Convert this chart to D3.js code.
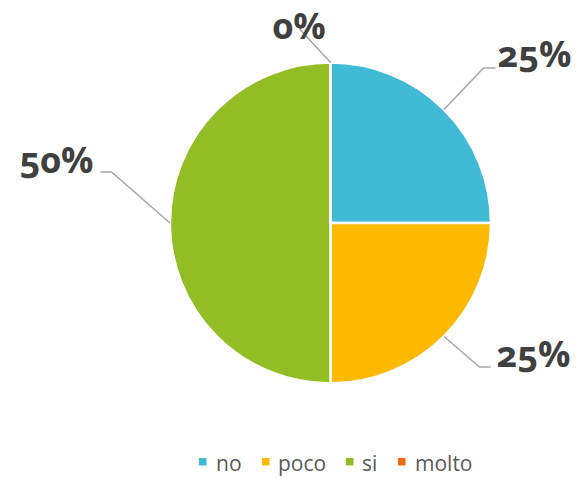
<!DOCTYPE html>
<html><head><meta charset="utf-8">
<script src="https://cdn.jsdelivr.net/npm/d3@7"></script>
<style>
body{margin:0;background:#fff;}
svg{display:block;}
.lbl{font-family:"Open Sans",sans-serif;font-weight:700;font-size:36px;fill:#404040;font-variant-numeric:oldstyle-nums;font-feature-settings:"onum" 1;}
.leg{font-family:"Open Sans",sans-serif;font-size:21px;fill:#595959;}
</style></head><body>
<svg id="c" width="582" height="478"></svg>
<script>
const categories = ["no", "poco", "si", "molto"];
const values = [25, 25, 50, 0];
const percentLabels = ["25%", "25%", "50%", "0%"];
const colors = ["#40BAD5", "#FBB900", "#93BD24", "#EC6A0A"];

const svg = d3.select("#c");
const cx = 330.5, cy = 223, R = 160.5;
const g = svg.append("g").attr("transform", `translate(${cx},${cy})`);
const pie = d3.pie().sort(null).value(d => d.v).startAngle(0).endAngle(2*Math.PI);
const data = pie(categories.map((c,i)=>({c, v: values[i], l: percentLabels[i], col: colors[i]})));
const arc = d3.arc().innerRadius(0).outerRadius(R);
g.selectAll("path.s").data(data).join("path").attr("class","s")
  .attr("d", arc).attr("fill", d=>d.data.col)
  .attr("stroke","#fff").attr("stroke-width",2.5).attr("stroke-linejoin","round");

// label layout (elbow offset, end offset, text anchor position) relative to pie center
const layout = [
  {elbow:[153,-155], end:[165,-155], text:[167,-156], anchor:"start"},
  {elbow:[149,144], end:[160,144], text:[166,144], anchor:"start"},
  {elbow:[-219,-51], end:[-230,-51], text:[-237,-50], anchor:"end"},
  {elbow:null, end:[-31,-194], text:[-58,-184], anchor:"start"}
];
data.forEach((d,i)=>{
  const a = (d.startAngle+d.endAngle)/2;
  const p0 = [R*Math.sin(a), -R*Math.cos(a)];
  const L = layout[i];
  const pts = [p0];
  if (L.elbow) pts.push(L.elbow);
  pts.push(L.end);
  g.append("path").attr("d", d3.line()(pts)).attr("fill","none")
    .attr("stroke","#A6A6A6").attr("stroke-width",1.5);
});
data.forEach((d,i)=>{
  const L = layout[i];
  g.append("text").attr("class","lbl").attr("x",L.text[0]).attr("y",L.text[1])
    .attr("text-anchor",L.anchor).text(d.data.l);
});

// legend
const legX = [199, 262, 346, 398];
const legT = [216, 278, 362, 415];
const lg = svg.append("g");
categories.forEach((c,i)=>{
  lg.append("rect").attr("x",legX[i]).attr("y",458).attr("width",7.5).attr("height",7.5).attr("fill",colors[i]);
  lg.append("text").attr("class","leg").attr("x",legT[i]).attr("y",471).text(c);
});
</script>
</body></html>
